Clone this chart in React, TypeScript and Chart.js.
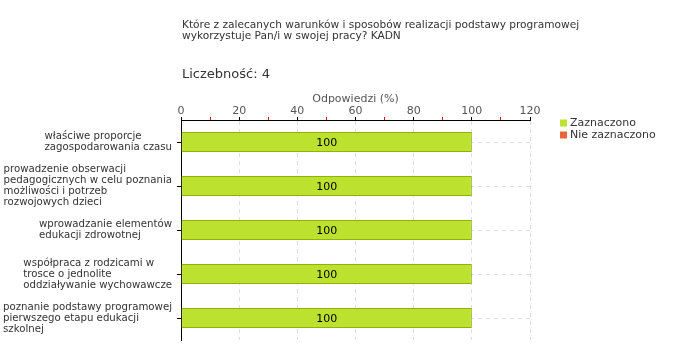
import React, { useEffect, useRef } from "react";
import { Chart, registerables } from "chart.js";

Chart.register(...registerables);

const titleLines = [
  "Które z zalecanych warunków i sposobów realizacji podstawy programowej",
  "wykorzystuje Pan/i w swojej pracy? KADN",
];
const countLabel = "Liczebność: 4";
const axisTitle = "Odpowiedzi (%)";

const categories: string[][] = [
  ["właściwe proporcje", "zagospodarowania czasu"],
  ["prowadzenie obserwacji", "pedagogicznych w celu poznania", "możliwości i potrzeb", "rozwojowych dzieci"],
  ["wprowadzanie elementów", "edukacji zdrowotnej"],
  ["współpraca z rodzicami w", "trosce o jednolite", "oddziaływanie wychowawcze"],
  ["poznanie podstawy programowej", "pierwszego etapu edukacji", "szkolnej"],
];
const seriesNames = ["Zaznaczono", "Nie zaznaczono"];
const zaznaczono = [100, 100, 100, 100, 100];
const nieZaznaczono = [0, 0, 0, 0, 0];

const FONT = "'DejaVu Sans', Verdana, sans-serif";
const TEXT = "#333333";

const overlayPlugin = {
  id: "overlay",
  afterDraw(chart: any) {
    const ctx = chart.ctx;
    const area = chart.chartArea;
    ctx.save();
    // title
    ctx.fillStyle = TEXT;
    ctx.textBaseline = "middle";
    ctx.textAlign = "left";
    ctx.font = `10.6px ${FONT}`;
    titleLines.forEach((l, i) => ctx.fillText(l, area.left + 1, 25 + i * 11));
    ctx.font = `13px ${FONT}`;
    ctx.fillText(countLabel, area.left + 1, 75);

    // category labels: block left-aligned, block right-aligned to axis
    const yScale = chart.scales.y;
    ctx.font = `10.2px ${FONT}`;
    ctx.fillStyle = TEXT;
    categories.forEach((lines, i) => {
      const yc = yScale.getPixelForValue(i);
      const w = Math.max(...lines.map((l) => ctx.measureText(l).width));
      const x = area.left - 9 - w;
      const lh = 11;
      const y0 = yc - ((lines.length - 1) * lh) / 2;
      lines.forEach((l, j) => ctx.fillText(l, x, y0 + j * lh));
    });

    // data labels
    ctx.textAlign = "center";
    ctx.fillStyle = "#000";
    ctx.font = `11px ${FONT}`;
    const meta = chart.getDatasetMeta(0);
    meta.data.forEach((bar: any, i: number) => {
      const v = chart.data.datasets[0].data[i];
      ctx.fillText(String(v), (bar.base + bar.x) / 2, bar.y + 1);
    });

    // legend
    ctx.textAlign = "left";
    ctx.font = `11px ${FONT}`;
    chart.data.datasets.forEach((ds: any, i: number) => {
      const y = 123 + i * 12;
      ctx.fillStyle = ds.backgroundColor;
      ctx.fillRect(560, y - 3.5, 7, 7);
      ctx.fillStyle = TEXT;
      ctx.fillText(ds.label, 570, y);
    });
    ctx.restore();
  },
};

export default function App() {
  const ref = useRef<HTMLCanvasElement>(null);
  useEffect(() => {
    if (!ref.current) return;
    const chart = new Chart(ref.current, {
      type: "bar",
      data: {
        labels: categories.map((c) => c.join(" ")),
        datasets: [
          {
            label: seriesNames[0],
            data: zaznaczono,
            backgroundColor: "#BDE12F",
            borderColor: "#8CB400",
            borderWidth: 1,
            borderSkipped: false,
            barPercentage: 0.455,
            categoryPercentage: 1,
          },
          {
            label: seriesNames[1],
            data: nieZaznaczono,
            backgroundColor: "#E8643A",
            borderWidth: 0,
            barPercentage: 0.455,
            categoryPercentage: 1,
          },
        ],
      },
      options: {
        indexAxis: "y",
        responsive: false,
        animation: false,
        layout: { padding: { left: 0, right: 150, top: 93.5, bottom: 20 } },
        plugins: {
          legend: { display: false },
          tooltip: { enabled: false },
          title: { display: false },
        },
        scales: {
          x: {
            position: "top",
            stacked: true,
            min: 0,
            max: 120,
            ticks: {
              stepSize: 10,
              padding: 0,
              color: "#555",
              font: { family: FONT, size: 11, lineHeight: 1 },
              callback: (v: any) => (Number(v) % 20 === 0 ? String(v) : ""),
            },
            grid: {
              tickLength: 3,
              color: (c: any) => (c.tick && c.tick.value % 20 === 0 && c.tick.value !== 0 ? "#DDDDDD" : "rgba(0,0,0,0)"),
              tickColor: (c: any) => (c.tick && c.tick.value % 20 === 0 ? "#000000" : "#FF0000"),
            },
            border: { display: true, color: "#000", width: 1, dash: [4, 4] },
            title: {
              display: true,
              text: axisTitle,
              color: "#555",
              font: { family: FONT, size: 11, lineHeight: 1 },
              padding: { top: 0, bottom: 1.5 },
            },
          },
          y: {
            stacked: true,
            ticks: { color: "rgba(0,0,0,0)", font: { family: FONT, size: 10 } },
            afterFit: (s: any) => {
              s.width = 181;
            },
            grid: {
              offset: false,
              tickLength: 4,
              color: "#DDDDDD",
              tickColor: "#000000",
            },
            border: { display: true, color: "#000", width: 1, dash: [4, 4] },
          },
        },
      },
      plugins: [overlayPlugin],
    } as any);
    return () => chart.destroy();
  }, []);
  return (
    <div style={{ position: "absolute", left: 0, top: 0, width: 680, height: 360, background: "#fff" }}>
      <canvas ref={ref} width={680} height={360} />
    </div>
  );
}
